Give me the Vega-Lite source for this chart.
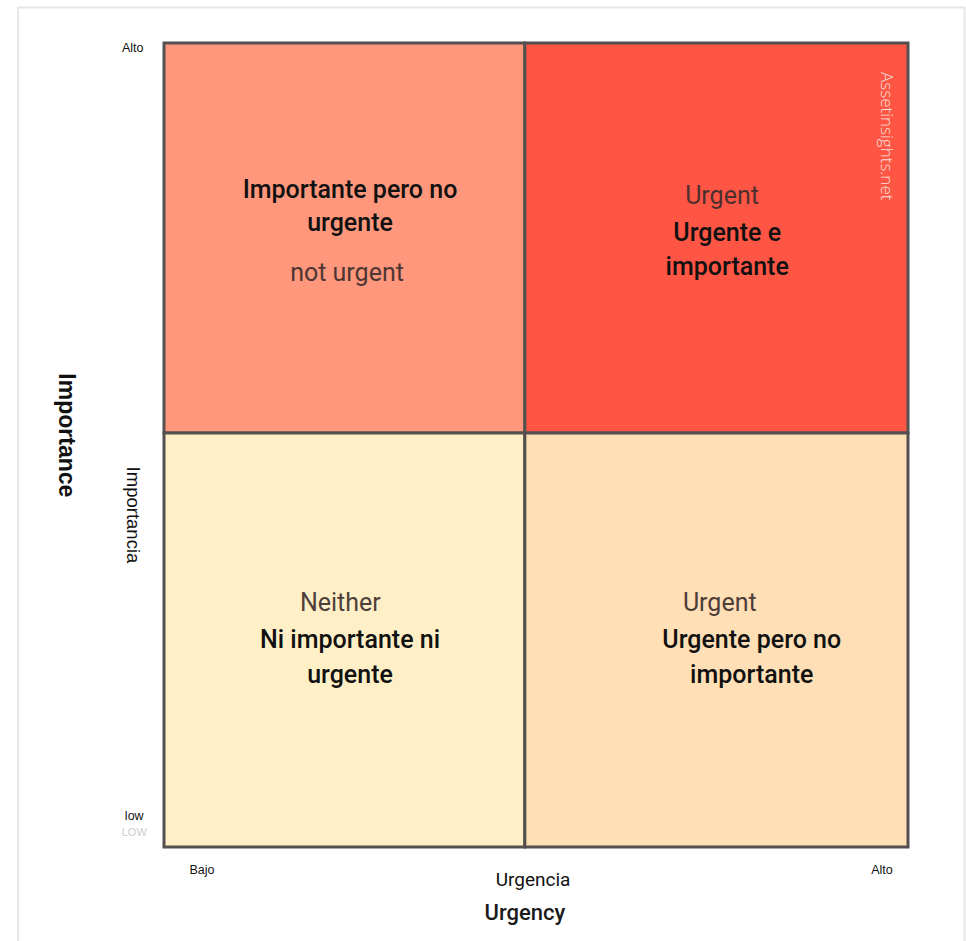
{
  "$schema": "https://vega.github.io/schema/vega-lite/v6.json",
  "width": 744,
  "height": 804,
  "autosize": {"type": "none"},
  "padding": {"left": 164, "top": 43, "right": 58, "bottom": 94},
  "background": "white",
  "config": {"view": {"stroke": null}},
  "datasets": {
    "quads": [
      {"q": "TL", "x0": 0, "x1": 48.5, "y0": 51.5, "y1": 100},
      {"q": "TR", "x0": 48.5, "x1": 100, "y0": 51.5, "y1": 100},
      {"q": "BL", "x0": 0, "x1": 48.5, "y0": 0, "y1": 51.5},
      {"q": "BR", "x0": 48.5, "x1": 100, "y0": 0, "y1": 51.5}
    ],
    "frame": [{"x0": -19.6, "x1": 107.6, "y0": -12.5, "y1": 104.4}],
    "labels": [
      {"role": "main", "x": 25.0, "y": 81.7, "text": "Importante pero no"},
      {"role": "main", "x": 25.0, "y": 77.6, "text": "urgente"},
      {"role": "en", "x": 24.6, "y": 71.4, "text": "not urgent"},
      {"role": "en", "x": 75.0, "y": 81.0, "text": "Urgent"},
      {"role": "main", "x": 75.7, "y": 76.4, "text": "Urgente e"},
      {"role": "main", "x": 75.7, "y": 72.1, "text": "importante"},
      {"role": "en", "x": 23.7, "y": 30.3, "text": "Neither"},
      {"role": "main", "x": 25.0, "y": 25.7, "text": "Ni importante ni"},
      {"role": "main", "x": 25.0, "y": 21.4, "text": "urgente"},
      {"role": "en", "x": 74.7, "y": 30.3, "text": "Urgent"},
      {"role": "main", "x": 79.0, "y": 25.7, "text": "Urgente pero no"},
      {"role": "main", "x": 79.0, "y": 21.4, "text": "importante"},
      {"role": "wm", "x": 97.0, "y": 88.4, "text": "Assetinsights.net"},
      {"role": "tick", "x": -4.2, "y": 99.4, "text": "Alto"},
      {"role": "tick", "x": -4.0, "y": 3.9, "text": "low"},
      {"role": "faint", "x": -4.0, "y": 1.8, "text": "LOW"},
      {"role": "tick", "x": 5.1, "y": -2.9, "text": "Bajo"},
      {"role": "tick", "x": 96.5, "y": -2.9, "text": "Alto"},
      {"role": "axes", "x": 49.6, "y": -4.1, "text": "Urgencia"},
      {"role": "axen", "x": 48.5, "y": -8.2, "text": "Urgency"},
      {"role": "impen", "x": -13.2, "y": 51.2, "text": "Importance"},
      {"role": "impes", "x": -4.2, "y": 41.3, "text": "Importancia"}
    ]
  },
  "layer": [
    {
      "data": {"name": "frame"},
      "mark": {"type": "rect", "fill": null, "stroke": "#e6e6e6", "strokeWidth": 2, "clip": false},
      "encoding": {
        "x": {"field": "x0", "type": "quantitative", "scale": {"domain": [0, 100]}, "axis": null},
        "x2": {"field": "x1"},
        "y": {"field": "y0", "type": "quantitative", "scale": {"domain": [0, 100]}, "axis": null},
        "y2": {"field": "y1"}
      }
    },
    {
      "data": {"name": "quads"},
      "mark": {"type": "rect", "stroke": "#555050", "strokeWidth": 3},
      "encoding": {
        "x": {"field": "x0", "type": "quantitative", "scale": {"domain": [0, 100]}, "axis": null},
        "x2": {"field": "x1"},
        "y": {"field": "y0", "type": "quantitative", "scale": {"domain": [0, 100]}, "axis": null},
        "y2": {"field": "y1"},
        "fill": {
          "field": "q", "type": "nominal", "legend": null,
          "scale": {"domain": ["TL", "TR", "BL", "BR"], "range": ["#FE977B", "#FF5544", "#FFEFC6", "#FFDFB6"]}
        }
      }
    },
    {
      "data": {"name": "labels"},
      "transform": [{"filter": "datum.role === 'main'"}],
      "mark": {"type": "text", "font": "Roboto", "fontSize": 25, "fontWeight": 500, "color": "#111111", "align": "center", "baseline": "middle"},
      "encoding": {
        "x": {"field": "x", "type": "quantitative"},
        "y": {"field": "y", "type": "quantitative"},
        "text": {"field": "text"}
      }
    },
    {
      "data": {"name": "labels"},
      "transform": [{"filter": "datum.role === 'en'"}],
      "mark": {"type": "text", "font": "Roboto", "fontSize": 25, "fontWeight": 400, "color": "#3a2c2c", "opacity": 0.9, "align": "center", "baseline": "middle"},
      "encoding": {
        "x": {"field": "x", "type": "quantitative"},
        "y": {"field": "y", "type": "quantitative"},
        "text": {"field": "text"}
      }
    },
    {
      "data": {"name": "labels"},
      "transform": [{"filter": "datum.role === 'wm'"}],
      "mark": {"type": "text", "font": "Open Sans", "fontSize": 17, "fontWeight": 300, "angle": 90, "color": "#f8e0da", "align": "center", "baseline": "middle"},
      "encoding": {
        "x": {"field": "x", "type": "quantitative"},
        "y": {"field": "y", "type": "quantitative"},
        "text": {"field": "text"}
      }
    },
    {
      "data": {"name": "labels"},
      "transform": [{"filter": "datum.role === 'tick'"}],
      "mark": {"type": "text", "font": "Liberation Sans", "fontSize": 12.5, "color": "#111111", "align": "center", "baseline": "middle"},
      "encoding": {
        "x": {"field": "x", "type": "quantitative"},
        "y": {"field": "y", "type": "quantitative"},
        "text": {"field": "text"}
      }
    },
    {
      "data": {"name": "labels"},
      "transform": [{"filter": "datum.role === 'faint'"}],
      "mark": {"type": "text", "font": "Liberation Sans", "fontSize": 11, "color": "#cccccc", "align": "center", "baseline": "middle"},
      "encoding": {
        "x": {"field": "x", "type": "quantitative"},
        "y": {"field": "y", "type": "quantitative"},
        "text": {"field": "text"}
      }
    },
    {
      "data": {"name": "labels"},
      "transform": [{"filter": "datum.role === 'axes'"}],
      "mark": {"type": "text", "font": "Roboto", "fontSize": 19, "fontWeight": 400, "color": "#111111", "align": "center", "baseline": "middle"},
      "encoding": {
        "x": {"field": "x", "type": "quantitative"},
        "y": {"field": "y", "type": "quantitative"},
        "text": {"field": "text"}
      }
    },
    {
      "data": {"name": "labels"},
      "transform": [{"filter": "datum.role === 'axen'"}],
      "mark": {"type": "text", "font": "Roboto", "fontSize": 22, "fontWeight": 500, "color": "#1a1a1a", "align": "center", "baseline": "middle"},
      "encoding": {
        "x": {"field": "x", "type": "quantitative"},
        "y": {"field": "y", "type": "quantitative"},
        "text": {"field": "text"}
      }
    },
    {
      "data": {"name": "labels"},
      "transform": [{"filter": "datum.role === 'impen'"}],
      "mark": {"type": "text", "font": "Liberation Sans", "fontSize": 23, "fontWeight": "bold", "angle": 90, "color": "#111111", "align": "center", "baseline": "middle"},
      "encoding": {
        "x": {"field": "x", "type": "quantitative"},
        "y": {"field": "y", "type": "quantitative"},
        "text": {"field": "text"}
      }
    },
    {
      "data": {"name": "labels"},
      "transform": [{"filter": "datum.role === 'impes'"}],
      "mark": {"type": "text", "font": "Liberation Sans", "fontSize": 18.5, "angle": 90, "color": "#111111", "align": "center", "baseline": "middle"},
      "encoding": {
        "x": {"field": "x", "type": "quantitative"},
        "y": {"field": "y", "type": "quantitative"},
        "text": {"field": "text"}
      }
    }
  ]
}
